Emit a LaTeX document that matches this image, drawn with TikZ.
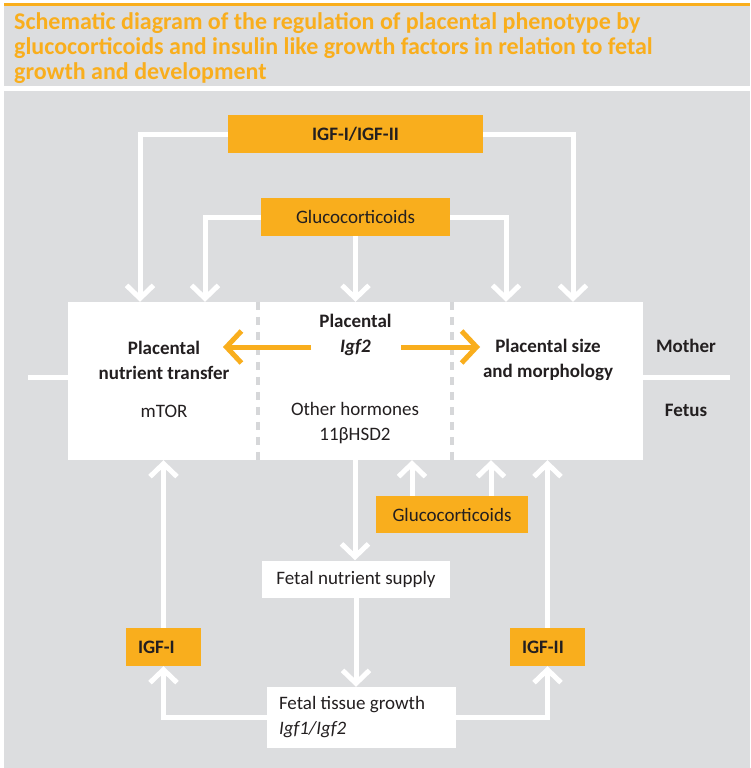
\documentclass[tikz,border=0pt]{standalone}
\usepackage{fontspec}
\setmainfont{Carlito}
\usepackage{xcolor}
\usepackage{tikz}
\usetikzlibrary{arrows.meta,positioning}
\definecolor{igforange}{HTML}{F9AE1D}
\definecolor{panelgray}{HTML}{DCDDDF}
\definecolor{inkdark}{HTML}{231F20}
\definecolor{dashgray}{HTML}{D6D7D9}
\tikzset{
  lab/.style={text=inkdark,inner sep=0pt,align=center,font=\fontsize{19}{25}\selectfont},
  boldlab/.style={text=inkdark,inner sep=0pt,align=center,font=\bfseries\fontsize{19}{25}\selectfont},
  orangebox/.style={rectangle,fill=igforange,inner sep=0pt},
  whitebox/.style={rectangle,fill=white,inner sep=0pt},
  flow/.style={draw=white,line width=5pt,-{Straight Barb[length=13pt,width=27pt]}},
  flowline/.style={draw=white,line width=5pt},
  igfarrow/.style={draw=igforange,line width=5pt,-{Straight Barb[length=15pt,width=32pt]}},
}

\begin{document}
\begin{tikzpicture}[x=1pt,y=-1pt]
\useasboundingbox (0,0) rectangle (750,768);
% background and title
\fill[panelgray] (4,5) rectangle (750,768);
\fill[white] (4,86) rectangle (750,91);
\draw[igforange,line width=3pt] (4,4.5) -- (750,4.5);
\node[anchor=north west,text=igforange,align=left,inner sep=0pt,font=\bfseries\fontsize{24}{25}\selectfont] (title) at (14,12)
  {Schematic diagram of the regulation of placental phenotype by\\glucocorticoids and insulin like growth factors in relation to fetal\\growth and development};

% placenta
\node[whitebox,minimum width=190,minimum height=158] (transfer) at (163,381) {};
\node[whitebox,minimum width=194,minimum height=158] (igfcol) at (355,381) {};
\node[whitebox,minimum width=191,minimum height=158] (sizecol) at (547.5,381) {};
\draw[dashgray,line width=4pt,dash pattern=on 8pt off 7pt] (transfer.north east) -- (transfer.south east);
\draw[dashgray,line width=4pt,dash pattern=on 8pt off 7pt] (sizecol.north west) -- (sizecol.south west);
\node[boldlab] (transferlab) at (164,360) {Placental\\nutrient transfer};
\node[lab] (mtor) at (164,411) {mTOR};
\node[boldlab] (igflab) at (355.5,335) {Placental\\\textit{Igf2}};
\node[lab] (hormones) at (355,423) {Other hormones\\11βHSD2};
\node[boldlab] (sizelab) at (548,360) {Placental size\\and morphology};

% mother / fetus
\coordinate (mfleft) at (28,377);
\coordinate (mfright) at (730,377);
\draw[flowline] (mfleft) -- (mfleft -| transfer.west);
\draw[flowline] (sizecol.east |- mfright) -- (mfright);
\node[boldlab] (mother) at (686,346) {Mother};
\node[boldlab] (fetus) at (686,410) {Fetus};

% hormone and fetal boxes
\node[orangebox,boldlab,minimum width=255,minimum height=38] (igfboth) at (355.5,134) {IGF-I/IGF-II};
\node[orangebox,lab,minimum width=189,minimum height=38] (glucup) at (355.5,217) {Glucocorticoids};
\node[orangebox,lab,minimum width=152,minimum height=37] (glucdown) at (452,514.5) {Glucocorticoids};
\node[whitebox,lab,minimum width=188,minimum height=37] (supply) at (356,579) {Fetal nutrient supply};
\node[whitebox,lab,align=flush left,text width=165,minimum width=189,minimum height=61] (tissue) at (361.5,717.5) {Fetal tissue growth\\\textit{Igf1/Igf2}};
\node[orangebox,boldlab,align=flush left,text width=51,minimum width=75,minimum height=38] (igfone) at (163.5,647) {IGF-I};
\node[orangebox,boldlab,align=flush left,text width=51,minimum width=75,minimum height=38] (igftwo) at (547.5,647) {IGF-II};

% maternal signals
\draw[flow] (igfboth.west) -| ([xshift=-23]transfer.north);
\draw[flow] (igfboth.east) -| ([xshift=25.5]sizecol.north);
\draw[flow] (glucup.west) -| ([xshift=42]transfer.north);
\draw[flow] (glucup.south) -- (glucup.south |- igfcol.north);
\draw[flow] (glucup.east) -| ([xshift=-41.5]sizecol.north);

% placental Igf2
\coordinate (igfleft) at (311,347);
\coordinate (transferin) at (223,347);
\coordinate (igfright) at (401,347);
\coordinate (sizein) at (480,347);
\draw[igfarrow] (igfleft) -- (transferin);
\draw[igfarrow] (igfright) -- (sizein);

% fetal side
\draw[flow] (igfcol.south) -- (igfcol.south |- supply.north);
\draw[flow] ([xshift=-40]glucdown.north) -- ([xshift=-40]glucdown.north |- igfcol.south);
\draw[flow] ([xshift=39]glucdown.north) -- ([xshift=39]glucdown.north |- sizecol.south);
\draw[flow] (supply.south) -- (supply.south |- tissue.north);
\draw[flow] (tissue.west) -| (igfone.south);
\draw[flow] (tissue.east) -| (igftwo.south);
\draw[flow] (igfone.north) -- (igfone.north |- transfer.south);
\draw[flow] (igftwo.north) -- (igftwo.north |- sizecol.south);
\end{tikzpicture}
\end{document}
